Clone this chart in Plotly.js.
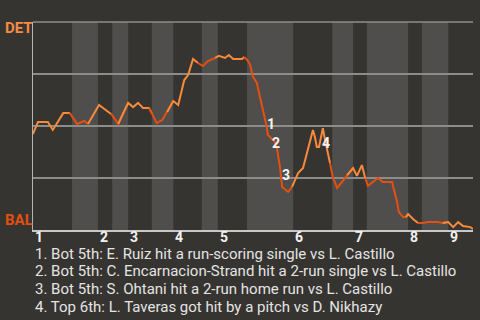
<!DOCTYPE html>
<html>
<head>
<meta charset="utf-8">
<script src="https://cdn.plot.ly/plotly-3.0.1.min.js"></script>
<style>
html,body{margin:0;padding:0;background:#363430;}
#chart{width:480px;height:320px;}
</style>
</head>
<body>
<div id="chart"></div>
<script>
// Play index (game progress) and DET win probability
const playX = [0,0.9,2.7,3.6,5.5,6.7,8.0,9.3,10.0,12.0,14.2,15.5,17.3,18.2,19.1,20.0,21.1,21.6,22.5,23.5,24.4,25.5,26.4,27.1,27.5,28.2,28.5,29.1,30.0,30.9,31.8,33.1,33.8,34.9,35.6,36.4,38.0,38.4,39.1,39.5,40.0,40.7,41.3,41.8,42.5,42.7,43.5,44.0,44.4,44.9,45.3,45.8,46.4,47.1,47.6,48.2,49.1,50.0,50.9,51.3,51.6,52.0,52.7,53.1,53.5,54.0,54.5,55.3,56.2,57.1,58.2,58.9,59.8,60.4,60.9,61.8,62.7,63.6,65.3,65.5,66.2,66.5,67.3,67.8,68.2,69.1,70.0,70.9,71.8,73.6,74.5,75.5,76.4,77.3,78.2,79.5,80];
const detWinProb = [0.462,0.519,0.519,0.481,0.562,0.562,0.510,0.524,0.510,0.601,0.558,0.510,0.611,0.591,0.611,0.587,0.587,0.562,0.514,0.529,0.567,0.620,0.601,0.688,0.721,0.745,0.769,0.822,0.803,0.788,0.812,0.827,0.837,0.827,0.841,0.822,0.822,0.832,0.812,0.793,0.736,0.707,0.639,0.577,0.495,0.457,0.433,0.423,0.385,0.303,0.207,0.197,0.183,0.207,0.240,0.274,0.298,0.385,0.481,0.442,0.399,0.399,0.490,0.433,0.385,0.322,0.255,0.202,0.231,0.264,0.298,0.260,0.312,0.250,0.212,0.231,0.250,0.231,0.231,0.207,0.135,0.087,0.062,0.062,0.077,0.053,0.034,0.034,0.038,0.038,0.034,0.038,0.014,0.038,0.019,0.014,0.005];

// Half-inning starts
const inningLabels = ['1','2','3','4','5','6','7','8','9'];
const topStart = [0,11.8,17.3,25.5,33.6,47.3,58.2,68.2,75.5];
const botStart = [7.1,14.4,21.6,30.7,38.9,54.4,60.7,70.7,null];
const gameEnd = 80;

// Key plays
const keyPlayText = ['1','2','3','4'];
const keyPlayX = [43.3,44.2,46.0,53.3];
const keyPlayY = [0.51,0.418,0.264,0.418];
const keyPlayDesc = [
  '1. Bot 5th: E. Ruiz hit a run-scoring single vs L. Castillo',
  '2. Bot 5th: C. Encarnacion-Strand hit a 2-run single vs L. Castillo',
  '3. Bot 5th: S. Ohtani hit a 2-run home run vs L. Castillo',
  '4. Top 6th: L. Taveras got hit by a pitch vs D. Nikhazy'
];

const teamTop = 'DET', teamBottom = 'BAL';
const colTop = '#f88a3c', colBot = '#e4500f';

// Half innings
const halves = [];
for (let i = 0; i < topStart.length; i++) {
  const tEnd = botStart[i] !== null ? botStart[i] : (i + 1 < topStart.length ? topStart[i + 1] : gameEnd);
  halves.push({a: topStart[i], b: tEnd, top: true});
  if (botStart[i] !== null) {
    halves.push({a: botStart[i], b: i + 1 < topStart.length ? topStart[i + 1] : gameEnd, top: false});
  }
}

const traces = [];
halves.forEach(h => {
  const idx = [];
  playX.forEach((x, k) => { if (x >= h.a && x <= h.b) idx.push(k); });
  if (!idx.length) return;
  if (idx[0] > 0) idx.unshift(idx[0] - 1);
  traces.push({
    type: 'scatter', mode: 'lines',
    x: idx.map(k => playX[k]), y: idx.map(k => detWinProb[k]),
    line: {color: h.top ? colTop : colBot, width: 2},
    hoverinfo: 'skip', showlegend: false
  });
});

const shapes = halves.filter(h => !h.top).map(h => ({
  type: 'rect', xref: 'x', yref: 'paper', x0: h.a, x1: h.b, y0: 0, y1: 1,
  fillcolor: '#4f4e4c', line: {width: 0}, layer: 'below'
}));
// top border line (grid at 100%)
shapes.push({type: 'line', xref: 'paper', yref: 'paper', x0: 0, x1: 1, y0: 1, y1: 1,
  line: {color: '#8c8c8a', width: 1.5}, layer: 'below'});

const annotations = [];
inningLabels.forEach((t, i) => annotations.push({
  x: topStart[i], y: -0.036, xref: 'x', yref: 'paper', text: t, showarrow: false,
  xanchor: 'left', yanchor: 'middle', font: {family: 'Roboto', size: 14, color: '#f2f2f2', weight: 'bold'}
}));
keyPlayText.forEach((t, i) => annotations.push({
  x: keyPlayX[i], y: keyPlayY[i], xref: 'x', yref: 'y', text: t, showarrow: false,
  xanchor: 'center', yanchor: 'middle', font: {family: 'Roboto', size: 14, color: '#f4f4f4', weight: 'bold'}
}));
const legendY = [-0.115, -0.199, -0.285, -0.368];
keyPlayDesc.forEach((t, i) => annotations.push({
  x: 0, y: legendY[i], xref: 'paper', yref: 'paper', text: t, showarrow: false,
  xanchor: 'left', yanchor: 'middle', font: {family: 'Roboto', size: 15, color: '#e4e4e4'}
}));
annotations.push({x: -0.068, y: 0.971, xref: 'paper', yref: 'paper', text: teamTop, showarrow: false,
  xanchor: 'left', yanchor: 'middle', font: {family: 'Roboto', size: 15, color: '#f78a44', weight: 'bold'}});
annotations.push({x: -0.068, y: 0.048, xref: 'paper', yref: 'paper', text: teamBottom, showarrow: false,
  xanchor: 'left', yanchor: 'middle', font: {family: 'Roboto', size: 15, color: '#e24f10', weight: 'bold'}});

const layout = {
  width: 480, height: 320,
  margin: {l: 33, r: 7, t: 22, b: 90},
  paper_bgcolor: '#363430', plot_bgcolor: '#363430',
  showlegend: false,
  xaxis: {range: [0, gameEnd], showgrid: false, zeroline: false, showticklabels: false,
    showline: true, linecolor: '#c8c8c8', linewidth: 1.5, fixedrange: true},
  yaxis: {range: [0, 1], dtick: 0.25, tick0: 0, showgrid: true, gridcolor: '#8c8c8a', gridwidth: 1.5,
    zeroline: false, showticklabels: false, showline: true, linecolor: '#b4b4b4', linewidth: 1.5, fixedrange: true},
  shapes: shapes,
  annotations: annotations,
  hovermode: false
};

Plotly.newPlot('chart', traces, layout, {staticPlot: true, displayModeBar: false});
</script>
</body>
</html>
